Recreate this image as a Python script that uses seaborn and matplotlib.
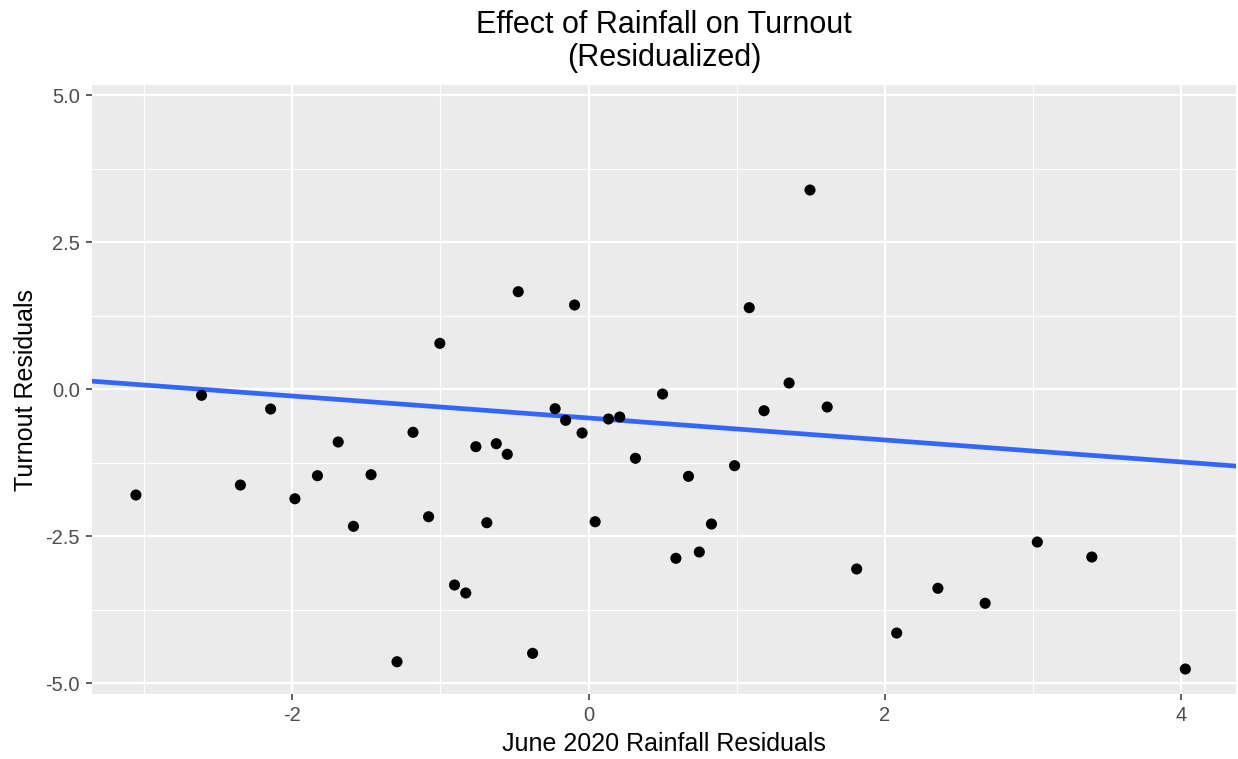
import matplotlib
matplotlib.use("Agg")
import matplotlib.pyplot as plt
import numpy as np
import pandas as pd
import seaborn as sns

# State-level residuals: June 2020 rainfall vs. turnout
rain_resid = [
    -3.055, -2.612, -2.350, -2.146, -1.982, -1.830, -1.690, -1.587, -1.468, -1.293,
    -1.185, -1.080, -1.004, -0.905, -0.829, -0.761, -0.687, -0.623, -0.549, -0.475,
    -0.378, -0.226, -0.155, -0.095, -0.044, 0.044, 0.134, 0.210, 0.316, 0.499,
    0.589, 0.674, 0.747, 0.829, 0.985, 1.084, 1.184, 1.353, 1.494, 1.610,
    1.809, 2.079, 2.357, 2.676, 3.028, 3.396, 4.027,
]
turnout_resid = [
    -1.797, -0.102, -1.628, -0.335, -1.861, -1.469, -0.896, -2.330, -1.452, -4.633,
    -0.731, -2.167, 0.782, -3.328, -3.464, -0.976, -2.269, -0.925, -1.105, 1.660,
    -4.490, -0.330, -0.527, 1.434, -0.743, -2.252, -0.505, -0.471, -1.173, -0.080,
    -2.874, -1.480, -2.767, -2.291, -1.299, 1.388, -0.364, 0.107, 3.389, -0.301,
    -3.056, -4.145, -3.384, -3.639, -2.597, -2.852, -4.757,
]

# Fitted line (intercept, slope)
fit_intercept = -0.488
fit_slope = -0.187

x_ticks = [-2, 0, 2, 4]
x_tick_labels = ["-2", "0", "2", "4"]
x_minor = [-3, -1, 1, 3]
y_ticks = [-5.0, -2.5, 0.0, 2.5, 5.0]
y_tick_labels = ["-5.0", "-2.5", "0.0", "2.5", "5.0"]
y_minor = [-3.75, -1.25, 1.25, 3.75]

x_limits = (-3.349, 4.369)
y_limits = (-5.177, 5.170)

sns.set_theme(style="darkgrid", rc={
    "axes.facecolor": "#EBEBEB",
    "figure.facecolor": "white",
    "grid.color": "white",
})
plt.rcParams["font.family"] = ["Liberation Sans", "DejaVu Sans"]

df = pd.DataFrame({"rain": rain_resid, "turnout": turnout_resid})

fig = plt.figure(figsize=(12.38, 7.59), dpi=100)
ax = fig.add_axes([0.0746, 0.0860, 0.9238, 0.8016])

ax.set_xlim(*x_limits)
ax.set_ylim(*y_limits)

line_x = np.array(x_limits)
line_df = pd.DataFrame({"x": line_x, "y": fit_intercept + fit_slope * line_x})
sns.lineplot(data=line_df, x="x", y="y", ax=ax, color="#3366FF",
             linewidth=3.4, zorder=2)

sns.scatterplot(data=df, x="rain", y="turnout", ax=ax, color="black",
                s=64, edgecolor="none", linewidth=0, zorder=3)

ax.set_xlim(*x_limits)
ax.set_ylim(*y_limits)

ax.set_xticks(x_ticks)
ax.set_xticklabels(x_tick_labels)
ax.set_yticks(y_ticks)
ax.set_yticklabels(y_tick_labels)
ax.set_xticks(x_minor, minor=True)
ax.set_yticks(y_minor, minor=True)

ax.grid(which="major", color="white", linewidth=1.6)
ax.grid(which="minor", color="white", linewidth=0.8)
ax.set_axisbelow(True)

for s in ax.spines.values():
    s.set_visible(False)

ax.tick_params(which="major", length=4.5, width=1.1, color="#333333",
               labelcolor="#4D4D4D", labelsize=14.5, pad=4.5,
               bottom=True, left=True)
ax.tick_params(which="minor", length=0)

ax.set_xlabel("June 2020 Rainfall Residuals", fontsize=18, color="black",
              labelpad=5)
ax.set_ylabel("Turnout Residuals", fontsize=18, color="black", labelpad=5)
ax.set_title("Effect of Rainfall on Turnout\n(Residualized)", fontsize=22,
             color="black", pad=14, linespacing=1.14)

fig.savefig("out.png", dpi=100)
